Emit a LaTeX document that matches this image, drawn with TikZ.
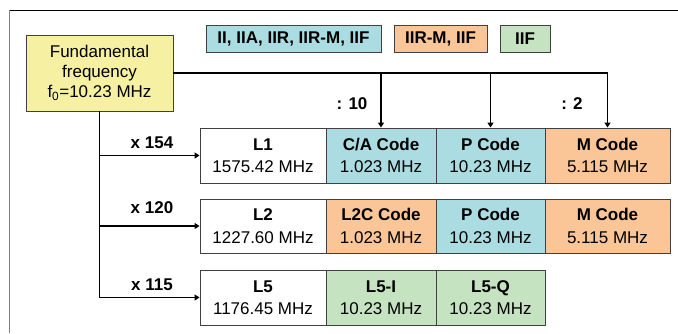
\documentclass[tikz,border=0pt]{standalone}
\usepackage{fontspec}
\setmainfont{Liberation Sans}
\usetikzlibrary{arrows.meta}
\definecolor{cyanbox}{HTML}{AADCE2}
\definecolor{orangebox}{HTML}{FAC597}
\definecolor{greenbox}{HTML}{C5E3C0}
\definecolor{yellowbox}{HTML}{F5F0A2}
\definecolor{edgegray}{HTML}{404040}
\begin{document}
\begin{tikzpicture}[x=1pt,y=-1pt,
  box/.style={draw=edgegray,line width=0.9pt,inner sep=0pt,align=center,
    font=\fontsize{17}{22.5}\selectfont},
  legend/.style={box,minimum height=27pt,font=\fontsize{17}{20}\selectfont\bfseries},
  lab/.style={font=\fontsize{17}{20}\selectfont\bfseries,inner sep=0pt},
  conn/.style={line width=1.9pt},
  arr/.style={conn,-{Triangle[length=5pt,width=6pt]}}]
\useasboundingbox (0,0) rectangle (678,333);
\fill[white] (0,0) rectangle (678,333);
% frame
\draw[line width=1pt,black] (9,10) -- (678,10);
\draw[line width=1pt,gray] (9,333) -- (9,10);
% fundamental
\node[box,fill=yellowbox,minimum width=147pt,minimum height=76pt,
  font=\fontsize{17}{20}\selectfont] (fund) at (99.5,73)
  {Fundamental\\frequency\\f\textsubscript{0}=10.23 MHz};
% legend
\node[legend,fill=cyanbox,minimum width=175pt] (leg1) at (293.5,38.5) {II, IIA, IIR, IIR-M, IIF};
\node[legend,fill=orangebox,minimum width=93pt] (leg2) at (440.5,38.5) {IIR-M, IIF};
\node[legend,fill=greenbox,minimum width=50pt] (leg3) at (525,38.5) {IIF};
% row L1
\node[box,fill=white,minimum width=126pt,minimum height=55pt] (l1) at (263,155.5) {\textbf{L1}\\1575.42 MHz};
\node[box,fill=cyanbox,minimum width=110pt,minimum height=55pt] (ca1) at (381,155.5) {\textbf{C/A Code}\\1.023 MHz};
\node[box,fill=cyanbox,minimum width=109pt,minimum height=55pt] (p1) at (490.5,155.5) {\textbf{P Code}\\10.23 MHz};
\node[box,fill=orangebox,minimum width=125pt,minimum height=55pt] (m1) at (607.5,155.5) {\textbf{M Code}\\5.115 MHz};
% row L2
\node[box,fill=white,minimum width=126pt,minimum height=54pt] (l2) at (263,226) {\textbf{L2}\\1227.60 MHz};
\node[box,fill=orangebox,minimum width=110pt,minimum height=54pt] (l2c) at (381,226) {\textbf{L2C Code}\\1.023 MHz};
\node[box,fill=cyanbox,minimum width=109pt,minimum height=54pt] (p2) at (490.5,226) {\textbf{P Code}\\10.23 MHz};
\node[box,fill=orangebox,minimum width=125pt,minimum height=54pt] (m2) at (607.5,226) {\textbf{M Code}\\5.115 MHz};
% row L5
\node[box,fill=white,minimum width=126pt,minimum height=55pt] (l5) at (263,297.5) {\textbf{L5}\\1176.45 MHz};
\node[box,fill=greenbox,minimum width=110pt,minimum height=55pt] (l5i) at (381,297.5) {\textbf{L5-I}\\10.23 MHz};
\node[box,fill=greenbox,minimum width=109pt,minimum height=55pt] (l5q) at (490.5,297.5) {\textbf{L5-Q}\\10.23 MHz};
% connectors top
\draw[arr] (fund.east) -| (m1.north);
\draw[arr] (ca1.north |- fund.east) -- (ca1.north);
\draw[arr] (p1.north |- fund.east) -- (p1.north);
% connectors trunk
\draw[arr] (fund.south) |- (l5.west);
\draw[arr] (fund.south |- l1.west) -- (l1.west);
\draw[arr] (fund.south |- l2.west) -- (l2.west);
% labels
\node[lab] (d10) at (352,104) {: 10};
\node[lab] (d2) at (572,104) {: 2};
\node[lab] (x154) at (152,143) {x 154};
\node[lab] (x120) at (152,208) {x 120};
\node[lab] (x115) at (152,285) {x 115};
\end{tikzpicture}
\end{document}
